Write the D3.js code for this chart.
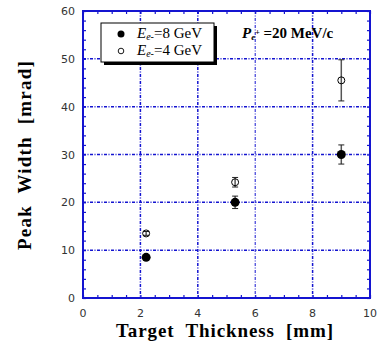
<!DOCTYPE html>
<html>
<head>
<meta charset="utf-8">
<script src="https://cdn.jsdelivr.net/npm/d3@7"></script>
<style>
  body { margin: 0; background: #fff; }
  svg { display: block; }
</style>
</head>
<body>
<svg id="chart" width="378" height="342"></svg>
<script>
// data
const thickness = [2.2, 5.3, 9.0];
const width8 = [8.5, 20.0, 30.0];
const err8 = [0.4, 1.3, 2.0];
const width4 = [13.5, 24.2, 45.5];
const err4 = [0.4, 1.0, 4.3];
const xTicks = [0, 2, 4, 6, 8, 10];
const yTicks = [0, 10, 20, 30, 40, 50, 60];

const svg = d3.select('#chart');
const m = {left: 83, right: 370, top: 11, bottom: 298};
const x = d3.scaleLinear().domain([0, 10]).range([m.left, m.right]);
const y = d3.scaleLinear().domain([0, 60]).range([m.bottom, m.top]);
const blue = '#1414d0';

// grid
const grid = svg.append('g');
grid.selectAll('.vg').data([2, 4, 6, 8]).enter().append('line')
  .attr('x1', d => x(d)).attr('x2', d => x(d))
  .attr('y1', m.top).attr('y2', m.bottom)
  .attr('stroke', blue).attr('stroke-width', d => d == 6 ? 1 : 1.5)
  .attr('stroke-dasharray', '3,1.5,1,1.5');
grid.selectAll('.hg').data([10, 20, 30, 40, 50]).enter().append('line')
  .attr('y1', d => y(d)).attr('y2', d => y(d))
  .attr('x1', m.left).attr('x2', m.right)
  .attr('stroke', blue).attr('stroke-width', 1.5)
  .attr('stroke-dasharray', '3,1.5,1,1.5');

// axes with inward ticks on all sides
const xMinor = d3.range(0, 10.01, 0.5);
const yMinor = d3.range(0, 60.01, 2);
svg.append('g').attr('transform', `translate(0,${m.bottom})`)
  .call(d3.axisTop(x).tickValues(xMinor).tickSize(3).tickFormat(''));
svg.append('g').attr('transform', `translate(0,${m.top})`)
  .call(d3.axisBottom(x).tickValues(xMinor).tickSize(3).tickFormat(''));
svg.append('g').attr('transform', `translate(${m.left},0)`)
  .call(d3.axisRight(y).tickValues(yMinor).tickSize(3).tickFormat(''));
svg.append('g').attr('transform', `translate(${m.right},0)`)
  .call(d3.axisLeft(y).tickValues(yMinor).tickSize(3).tickFormat(''));
svg.selectAll('.domain').remove();
svg.selectAll('.tick line').attr('stroke', blue).attr('stroke-width', 1.2);

svg.append('rect')
  .attr('x', m.left).attr('y', m.top)
  .attr('width', m.right - m.left).attr('height', m.bottom - m.top)
  .attr('fill', 'none').attr('stroke', blue).attr('stroke-width', 2);

// tick labels
svg.append('g').selectAll('text').data(xTicks).enter().append('text')
  .attr('x', d => x(d)).attr('y', 317)
  .attr('text-anchor', 'middle')
  .style('font', '11px "DejaVu Sans", sans-serif').attr('fill', '#333')
  .text(d => d);
svg.append('g').selectAll('text').data(yTicks).enter().append('text')
  .attr('x', 75).attr('y', d => y(d) + 4)
  .attr('text-anchor', 'end')
  .style('font', '11px "DejaVu Sans", sans-serif').attr('fill', '#333')
  .text(d => d);

// axis titles
svg.append('text').attr('x', 225).attr('y', 337)
  .attr('text-anchor', 'middle')
  .style('font', 'bold 19px "Liberation Serif", serif')
  .style('letter-spacing', '0.9px')
  .attr('xml:space', 'preserve')
  .text('Target  Thickness  [mm]');
svg.append('text')
  .attr('transform', 'translate(31,155) rotate(-90)')
  .attr('text-anchor', 'middle')
  .style('font', 'bold 19px "Liberation Serif", serif')
  .style('letter-spacing', '1.2px')
  .attr('xml:space', 'preserve')
  .text('Peak  Width  [mrad]');

// error bars + points
function series(vals, errs, filled) {
  const g = svg.append('g');
  thickness.forEach((t, i) => {
    g.append('line')
      .attr('x1', x(t)).attr('x2', x(t))
      .attr('y1', y(vals[i] - errs[i])).attr('y2', y(vals[i] + errs[i]))
      .attr('stroke', '#555').attr('stroke-width', 1.5);
    [vals[i] - errs[i], vals[i] + errs[i]].forEach(v => {
      g.append('line')
        .attr('x1', x(t) - 3).attr('x2', x(t) + 3)
        .attr('y1', y(v)).attr('y2', y(v))
        .attr('stroke', '#222').attr('stroke-width', 1);
    });
  });
  g.selectAll('circle').data(vals).enter().append('circle')
    .attr('cx', (d, i) => x(thickness[i])).attr('cy', d => y(d))
    .attr('r', filled ? 4.5 : 3.5)
    .attr('fill', filled ? '#000' : '#fff')
    .attr('fill-opacity', filled ? 1 : 0)
    .attr('stroke', '#000').attr('stroke-width', filled ? 0 : 1);
}
series(width8, err8, true);
series(width4, err4, false);

// legend
const lg = svg.append('g');
lg.append('rect').attr('x', 104).attr('y', 26).attr('width', 113).attr('height', 39).attr('fill', '#000');
lg.append('rect').attr('x', 101).attr('y', 23).attr('width', 113).attr('height', 39)
  .attr('fill', '#fff').attr('stroke', '#000').attr('stroke-width', 1);
lg.append('circle').attr('cx', 121).attr('cy', 34).attr('r', 3.5).attr('fill', '#000');
lg.append('circle').attr('cx', 121).attr('cy', 51).attr('r', 2.8).attr('fill', 'none')
  .attr('stroke', '#000').attr('stroke-width', 0.9);
const legendLabels = ['8 GeV', '4 GeV'];
legendLabels.forEach((lab, i) => {
  const t = lg.append('text').attr('x', 137).attr('y', 38 + i * 17)
    .style('font', '15px "Liberation Serif", serif');
  t.append('tspan').style('font-style', 'italic').text('E');
  t.append('tspan').style('font-style', 'italic').style('font-size', '10px').attr('dy', 2).text('e-');
  t.append('tspan').attr('dy', -2).text('=' + lab);
});

// annotation
const ann = svg.append('text').attr('x', 242).attr('y', 38)
  .style('font', 'bold 15px "Liberation Serif", serif');
ann.append('tspan').style('font-style', 'italic').text('P');
ann.append('tspan').style('font-style', 'italic').style('font-size', '9px').attr('dy', 2).text('e');
ann.append('tspan').style('font-size', '8px').attr('dy', -5).text('+');
ann.append('tspan').attr('dy', 3).text(' =20 MeV/c');
</script>
</body>
</html>
